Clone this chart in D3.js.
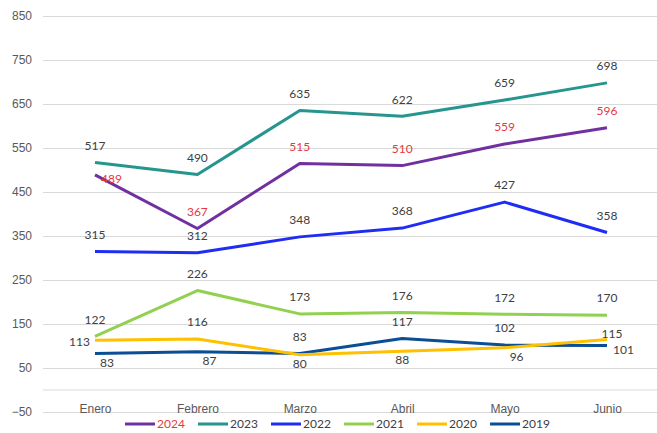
<!DOCTYPE html>
<html>
<head>
<meta charset="utf-8">
<script src="https://cdn.jsdelivr.net/npm/d3@7"></script>
<style>
  body { margin: 0; background: #fff; }
  svg { display: block; font-family: Lato, "Open Sans", sans-serif; }
</style>
</head>
<body>
<svg id="chart" width="657" height="433"></svg>
<script>
var months = ["Enero", "Febrero", "Marzo", "Abril", "Mayo", "Junio"];
var yTicks = [850, 750, 650, 550, 450, 350, 250, 150, 50, -50];

var v2024 = [489, 367, 515, 510, 559, 596];
var v2023 = [517, 490, 635, 622, 659, 698];
var v2022 = [315, 312, 348, 368, 427, 358];
var v2021 = [122, 226, 173, 176, 172, 170];
var v2020 = [113, 116, 80, 88, 96, 115];
var v2019 = [83, 87, 83, 117, 102, 101];

// where each data label sits: a = above, b = below, r = right, l = left
var series = [
  { name: "2024", values: v2024, color: "#7030a0", labelColor: "#e5383f", pos: ["r", "a", "a", "a", "a", "a"] },
  { name: "2023", values: v2023, color: "#26958f", labelColor: "#404040", pos: ["a", "a", "a", "a", "a", "a"] },
  { name: "2022", values: v2022, color: "#1f2cf5", labelColor: "#404040", pos: ["a", "a", "a", "a", "a", "a"] },
  { name: "2021", values: v2021, color: "#92d050", labelColor: "#404040", pos: ["a", "a", "a", "a", "a", "a"] },
  { name: "2020", values: v2020, color: "#ffc000", labelColor: "#404040", pos: ["l", "a", "b", "b", "br", "ar"] },
  { name: "2019", values: v2019, color: "#0b4e96", labelColor: "#404040", pos: ["br", "br", "a", "a", "a", "r"] }
];

var svg = d3.select("#chart"),
  width = 657,
  left = 43;

var x = d3.scalePoint().domain(months).range([95, 607]);
var y = d3.scaleLinear().domain([-50, 850]).range([412, 16]);

// y axis + gridlines
var yAxis = svg.append("g")
  .attr("transform", "translate(" + left + ",0)")
  .call(d3.axisLeft(y).tickValues(yTicks).tickSize(-(width - left)).tickPadding(11));
yAxis.select(".domain").remove();
yAxis.selectAll(".tick line").attr("stroke", "#d9d9d9");
yAxis.selectAll(".tick text").attr("fill", "#595959").style("font-size", "12px");

// zero line
svg.append("line")
  .attr("x1", left).attr("x2", width)
  .attr("y1", y(0)).attr("y2", y(0))
  .attr("stroke", "#d9d9d9");

// x axis labels
var xAxis = svg.append("g")
  .attr("transform", "translate(0," + y(0) + ")")
  .call(d3.axisBottom(x).tickSize(0).tickPadding(14));
xAxis.select(".domain").remove();
xAxis.selectAll(".tick text").attr("fill", "#595959").style("font-size", "12px");

var line = d3.line()
  .x(function(d, i) { return x(months[i]); })
  .y(function(d) { return y(d); });

// draw bottom series first so 2024 ends on top like the original
series.slice().reverse().forEach(function(s) {
  svg.append("path")
    .datum(s.values)
    .attr("fill", "none")
    .attr("stroke", s.color)
    .attr("stroke-width", 3)
    .attr("stroke-linejoin", "round")
    .attr("d", line);
});

// data labels
series.forEach(function(s) {
  s.values.forEach(function(v, i) {
    var px = x(months[i]), py = y(v), p = s.pos[i];
    var tx = px, ty = py - 17, anchor = "middle";
    if (p == "r") { tx = px + 6; ty = py + 4; anchor = "start"; }
    if (p == "l") { tx = px - 5; ty = py + 2; anchor = "end"; }
    if (p == "b") { ty = py + 9; }
    if (p == "br") { tx = px + 12; ty = py + 9; }
    if (p == "ar") { tx = px + 5; ty = py - 6; }
    svg.append("text")
      .attr("x", tx)
      .attr("y", ty)
      .attr("dy", "0.35em")
      .attr("text-anchor", anchor)
      .attr("fill", s.labelColor)
      .style("font-size", "12px")
      .text(v);
  });
});

// legend
var legend = svg.append("g").attr("transform", "translate(125,424)");
series.forEach(function(s, i) {
  var g = legend.append("g").attr("transform", "translate(" + (i * 73) + ",0)");
  g.append("line")
    .attr("x1", 0).attr("x2", 30)
    .attr("stroke", s.color)
    .attr("stroke-width", 3);
  g.append("text")
    .attr("x", 32)
    .attr("dy", "0.35em")
    .attr("fill", i == 0 ? s.labelColor : "#404040")
    .style("font-size", "12px")
    .text(s.name);
});
</script>
</body>
</html>
